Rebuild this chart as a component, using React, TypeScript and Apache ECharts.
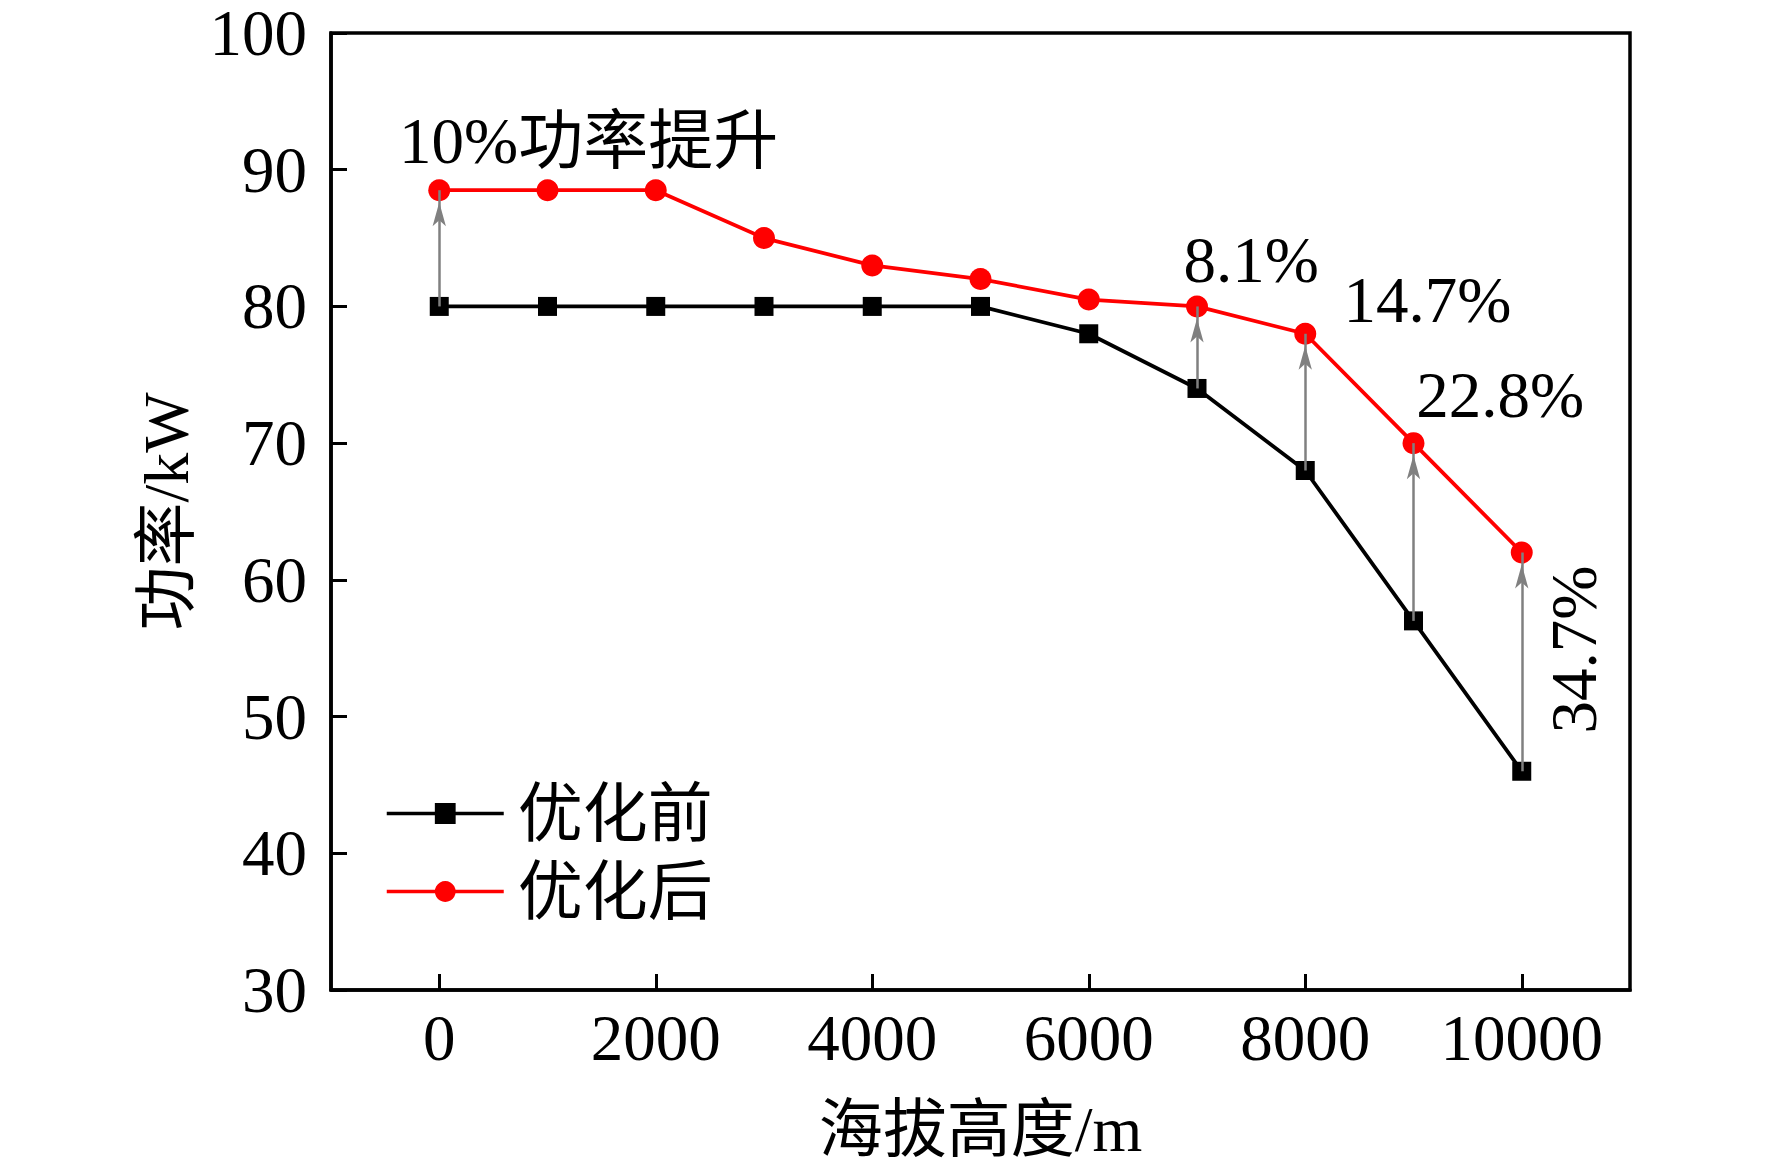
import React, { useEffect, useRef } from "react";
import * as echarts from "echarts";

const altitude = [0, 1000, 2000, 3000, 4000, 5000, 6000, 7000, 8000, 9000, 10000];
const powerBefore = [80, 80, 80, 80, 80, 80, 78, 74, 68, 57, 46];
const powerAfter = [88.5, 88.5, 88.5, 85, 83, 82, 80.5, 80, 78, 70, 62];
const arrowIndices = [0, 7, 8, 9, 10];
const xTickValues = [0, 2000, 4000, 6000, 8000, 10000];
const annotationTexts = ["10%功率提升", "8.1%", "14.7%", "22.8%", "34.7%"];
const annotationX = [1380, 7500, 9130, 9800, 10480];
const annotationY = [92.1, 83.4, 80.5, 73.5, 54.9];
const annotationRotate = [0, 0, 0, 0, 90];
const seriesNames = ["优化前", "优化后"];

const FONT = "'Liberation Serif', 'Times New Roman', 'Noto Sans CJK SC', serif";

export default function App() {
  const ref = useRef<HTMLDivElement>(null);
  useEffect(() => {
    if (!ref.current) return;
    const chart = echarts.init(ref.current, null, { renderer: "svg" });
    const arrows = arrowIndices.map((i) => [
      { coord: [altitude[i], powerBefore[i]] },
      { coord: [altitude[i], powerAfter[i]], symbolSize: [10, 24], symbolOffset: [0, 12] },
    ]);
    const option: any = {
      animation: false,
      backgroundColor: "#fff",
      textStyle: { fontFamily: FONT, color: "#000" },
      grid: {
        left: 331,
        top: 33,
        right: 142,
        bottom: 186,
        show: true,
        borderColor: "#000",
        borderWidth: 3.5,
        backgroundColor: "transparent",
      },
      legend: {
        data: seriesNames,
        orient: "vertical",
        left: 380,
        top: 776,
        itemWidth: 117,
        itemHeight: 26,
        itemGap: 13,
        lineStyle: { width: 3.5 },
        textStyle: {
          fontFamily: FONT,
          fontSize: 65,
          color: "#000",
          lineHeight: 65,
          padding: [0, 0, 0, 9],
        },
      },
      xAxis: {
        type: "value",
        min: -1000,
        max: 11000,
        name: "海拔高度/m",
        nameLocation: "middle",
        nameGap: 107,
        nameTextStyle: { fontFamily: FONT, fontSize: 64, color: "#000" },
        axisLine: { show: true, onZero: false, lineStyle: { color: "#000", width: 3.5 } },
        axisTick: {
          show: true,
          inside: true,
          length: 16,
          customValues: xTickValues,
          lineStyle: { color: "#000", width: 3 },
        },
        axisLabel: {
          show: true,
          customValues: xTickValues,
          formatter: (v: number) => String(v),
          fontFamily: FONT,
          fontSize: 65,
          color: "#000",
          margin: 15,
        },
        splitLine: { show: false },
      },
      yAxis: {
        type: "value",
        min: 30,
        max: 100,
        interval: 10,
        name: "功率/kW",
        nameLocation: "middle",
        nameRotate: 90,
        nameGap: 109,
        nameTextStyle: { fontFamily: FONT, fontSize: 64, color: "#000" },
        axisLine: { show: true, onZero: false, lineStyle: { color: "#000", width: 3.5 } },
        axisTick: { show: true, inside: true, length: 16, lineStyle: { color: "#000", width: 3 } },
        axisLabel: {
          formatter: (v: number) => String(v),
          fontFamily: FONT,
          fontSize: 65,
          color: "#000",
          margin: 24,
        },
        splitLine: { show: false },
      },
      series: [
        {
          name: seriesNames[0],
          type: "line",
          data: altitude.map((a, i) => [a, powerBefore[i]]),
          symbol: "rect",
          symbolSize: 19,
          itemStyle: { color: "#000" },
          lineStyle: { color: "#000", width: 3.8 },
          z: 2,
        },
        {
          name: seriesNames[1],
          type: "line",
          data: altitude.map((a, i) => [a, powerAfter[i]]),
          symbol: "circle",
          symbolSize: 22,
          itemStyle: { color: "#ff0000" },
          lineStyle: { color: "#ff0000", width: 3.8 },
          z: 3,
          markLine: {
            silent: true,
            symbol: ["none", "arrow"],
            label: { show: false },
            lineStyle: { color: "#808080", width: 2.5, type: "solid" },
            emphasis: { disabled: true },
            data: arrows,
            z: 5,
          },
        },
        {
          name: "annotations",
          type: "scatter",
          symbolSize: 0,
          silent: true,
          itemStyle: { opacity: 1, color: "#000" },
          data: annotationTexts.map((t, i) => ({
            value: [annotationX[i], annotationY[i]],
            label: {
              show: true,
              position: "inside",
              formatter: t,
              rotate: annotationRotate[i],
              fontFamily: FONT,
              fontSize: 65,
              color: "#000",
              opacity: 1,
            },
          })),
          z: 6,
        },
      ],
    };
    chart.setOption(option);
    return () => chart.dispose();
  }, []);
  return (
    <div
      ref={ref}
      style={{ position: "fixed", left: 0, top: 0, width: 1772, height: 1176, background: "#fff" }}
    />
  );
}
